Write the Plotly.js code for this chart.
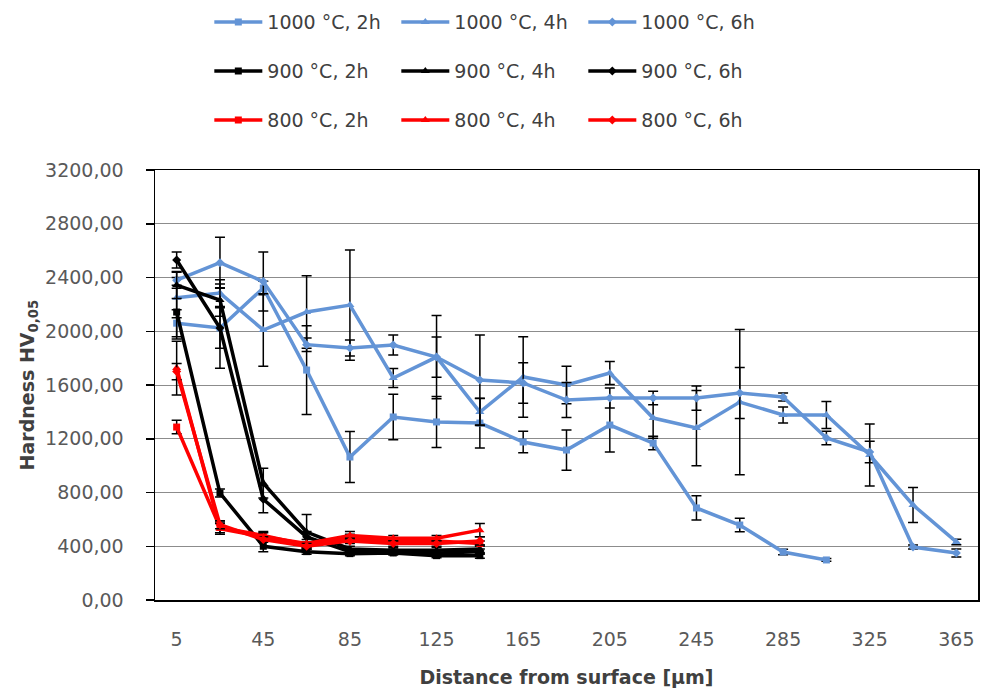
<!DOCTYPE html>
<html>
<head>
<meta charset="utf-8">
<script src="https://cdn.plot.ly/plotly-3.0.1.min.js"></script>
<style>html,body{margin:0;padding:0;background:#fff;}#chart{width:982px;height:689px;}</style>
</head>
<body>
<div id="chart"></div>
<script>
// Distance from surface [µm] (category positions)
const distances = [5, 25, 45, 65, 85, 105, 125, 145, 165, 185, 205, 225, 245, 265, 285, 305, 325, 345, 365];
const xTickLabels = [5, 45, 85, 125, 165, 205, 245, 285, 325, 365];

// 1000 °C
const blue2h    = [2060, 2024, 2322, 1711, 1064, 1362, 1325, 1317, 1176, 1116, 1302, 1168, 685, 558, 357, 298];
const blue2hErr = [100, 300, 50, 330, 190, 170, 190, 185, 80, 150, 200, 50, 90, 50, 20, 10];
const blue4h    = [2250, 2284, 2009, 2143, 2195, 1652, 1808, 1399, 1660, 1600, 1689, 1354, 1280, 1473, 1377, 1377, 1079, 707, 432];
const blue4hErr = [150, 100, 270, 270, 410, 70, 310, 100, 300, 140, 85, 150, 280, 540, 60, 100, 230, 130, 20];
const blue6h    = [2380, 2510, 2370, 1900, 1875, 1898, 1808, 1637, 1615, 1488, 1503, 1503, 1503, 1540, 1511, 1206, 1101, 394, 350];
const blue6hErr = [60, 190, 220, 50, 60, 75, 150, 335, 150, 130, 75, 50, 90, 190, 30, 50, 80, 15, 30];

// 900 °C
const black2h    = [2143, 796, 400, 360, 345, 350, 330, 330];
const black2hErr = [200, 30, 40, 20, 15, 15, 15, 20];
const black4h    = [2344, 2232, 870, 506, 380, 370, 370, 380];
const black4hErr = [100, 120, 110, 130, 20, 20, 20, 30];
const black6h    = [2530, 2024, 750, 470, 360, 360, 350, 360];
const black6hErr = [60, 150, 100, 40, 20, 20, 20, 20];

// 800 °C
const red2h    = [1287, 540, 480, 410, 460, 440, 440, 420];
const red2hErr = [50, 40, 30, 20, 30, 20, 20, 20];
const red4h    = [1726, 530, 470, 420, 480, 460, 460, 520];
const red4hErr = [200, 40, 30, 30, 30, 20, 20, 50];
const red6h    = [1700, 560, 450, 400, 440, 420, 420, 440];
const red6hErr = [60, 30, 20, 20, 20, 20, 20, 30];

const seriesNames = [
  ['1000 °C, 2h', '1000 °C, 4h', '1000 °C, 6h'],
  ['900 °C, 2h', '900 °C, 4h', '900 °C, 6h'],
  ['800 °C, 2h', '800 °C, 4h', '800 °C, 6h']
];

const BLUE = '#6394d6', BLACK = '#000000', RED = '#ff0000';
const symbols = ['square', 'triangle-up', 'diamond'];
const msizes = [7, 8, 7];

function mk(name, vals, errs, color, idx, legendId) {
  return {
    type: 'scatter', mode: 'lines+markers', name: name,
    x: distances.slice(0, vals.length), y: vals,
    line: {color: color, width: 3.5},
    marker: {symbol: symbols[idx], size: msizes[idx], color: color},
    error_y: {type: 'data', array: errs, visible: true, color: '#000', thickness: 1.5, width: 5},
    legend: legendId
  };
}

const data = [
  mk(seriesNames[0][0], blue2h, blue2hErr, BLUE, 0, 'legend'),
  mk(seriesNames[0][1], blue4h, blue4hErr, BLUE, 1, 'legend'),
  mk(seriesNames[0][2], blue6h, blue6hErr, BLUE, 2, 'legend'),
  mk(seriesNames[1][0], black2h, black2hErr, BLACK, 0, 'legend2'),
  mk(seriesNames[1][1], black4h, black4hErr, BLACK, 1, 'legend2'),
  mk(seriesNames[1][2], black6h, black6hErr, BLACK, 2, 'legend2'),
  mk(seriesNames[2][0], red2h, red2hErr, RED, 0, 'legend3'),
  mk(seriesNames[2][1], red4h, red4hErr, RED, 1, 'legend3'),
  mk(seriesNames[2][2], red6h, red6hErr, RED, 2, 'legend3')
];

const FONT = 'DejaVu Sans';
const legendBase = {
  orientation: 'h', x: 0.066, xanchor: 'left', yanchor: 'middle',
  entrywidth: 124, entrywidthmode: 'pixels', itemwidth: 48,
  bgcolor: 'rgba(0,0,0,0)', borderwidth: 0,
  font: {family: FONT, size: 19, color: '#404040'}
};

const layout = {
  width: 982, height: 689,
  margin: {l: 155, r: 4, t: 170, b: 89, autoexpand: false},
  paper_bgcolor: '#fff', plot_bgcolor: '#fff',
  separators: ',.',
  showlegend: true,
  legend: Object.assign({}, legendBase, {y: 1.344}),
  legend2: Object.assign({}, legendBase, {y: 1.230}),
  legend3: Object.assign({}, legendBase, {y: 1.116}),
  xaxis: {
    range: [-5, 375], tickmode: 'array', tickvals: xTickLabels, ticktext: xTickLabels.map(String),
    showgrid: false, zeroline: false, ticks: '',
    showline: true, linecolor: '#000', linewidth: 1.5, mirror: true,
    tickfont: {family: FONT, size: 19, color: '#595959'},
    ticklabelstandoff: 22,
    title: {text: 'Distance from surface [µm]', font: {family: FONT, size: 19, color: '#404040', weight: 'bold'}, standoff: 21}
  },
  yaxis: {
    range: [0, 3200], dtick: 400, tick0: 0, tickformat: '.2f',
    showgrid: true, gridcolor: '#8c8c8c', gridwidth: 1, zeroline: false,
    showline: true, linecolor: '#000', linewidth: 1.5, mirror: true,
    ticks: 'outside', ticklen: 8, tickcolor: '#000', tickwidth: 1.5,
    tickfont: {family: FONT, size: 19, color: '#595959'},
    ticklabelstandoff: 18,
    title: {text: 'Hardness HV<sub>0,05</sub>', font: {family: FONT, size: 19, color: '#404040', weight: 'bold'}, standoff: 5}
  }
};

Plotly.newPlot('chart', data, layout, {displayModeBar: false, staticPlot: true});
</script>
</body>
</html>
